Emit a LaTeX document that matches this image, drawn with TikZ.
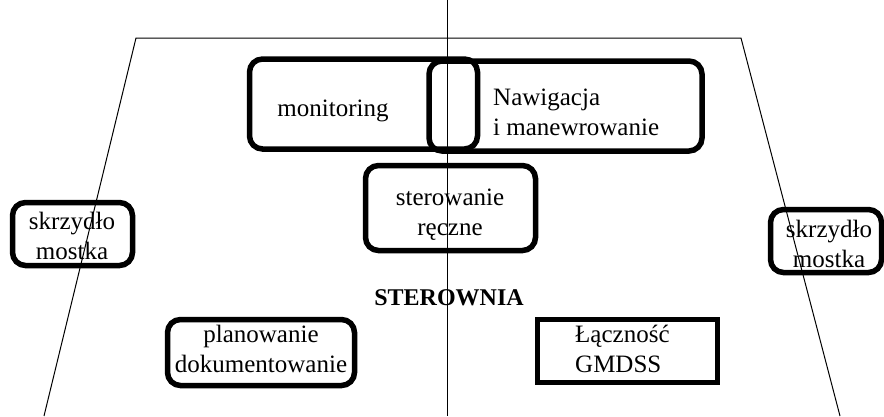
\documentclass[tikz,border=0pt]{standalone}
\usepackage{fontspec}
\setmainfont{Liberation Serif}
\begin{document}
\begin{tikzpicture}[x=1pt,y=-1pt,
  rbox/.style={draw, line width=5.5pt, rounded corners=13pt, inner sep=0pt},
  sbox/.style={draw, line width=5.5pt, inner sep=0pt},
  lbl/.style={font=\fontsize{25}{30}\selectfont, align=center, inner sep=0pt},
  lbll/.style={font=\fontsize{25}{30}\selectfont, align=left, inner sep=0pt},
  thin/.style={line width=1pt}]
\useasboundingbox (0,0) rectangle (884,416);
% boxes
\node[rbox, minimum width=228pt, minimum height=90pt] (mon) at (363.5,104) {};
\node[rbox, minimum width=273pt, minimum height=90pt] (naw) at (565.5,106) {};
\node[rbox, minimum width=170pt, minimum height=85pt] (ster) at (450.5,208) {};
\node[rbox, minimum width=120pt, minimum height=63pt] (skl) at (72.5,234) {};
\node[rbox, minimum width=111pt, minimum height=63pt] (skr) at (826,241) {};
\node[rbox, minimum width=187pt, minimum height=66pt] (plan) at (261,352.5) {};
\node[sbox, minimum width=180pt, minimum height=63pt] (lacz) at (627.5,351) {};
% texts
\node[lbl] (tmon) at (333,111) {monitoring};
\node[lbll, anchor=west] (tnaw) at (493,112) {Nawigacja\\i manewrowanie};
\node[lbl] (tster) at (450,215) {sterowanie\\ręczne};
\node[lbl] (tskl) at (72,236) {skrzydło\\mostka};
\node[lbl] (tskr) at (829,244) {skrzydło\\mostka};
\node[lbl, font=\fontsize{24}{28}\bfseries] (tsw) at (449,298) {STEROWNIA};
\node[lbl] (tplan) at (261,349) {planowanie\\dokumentowanie};
\node[lbll, anchor=west] (tlacz) at (575,349) {Łączność\\GMDSS};
% frame lines
\coordinate (tl) at (136,38);
\coordinate (tr) at (741,38);
\coordinate (bl) at (44,416);
\coordinate (br) at (840,416);
\coordinate (vt) at (447,0);
\coordinate (vb) at (447,416);
\draw[thin] (bl) -- (tl) -- (tr) -- (br);
\draw[thin] (vt) -- (vb);
\end{tikzpicture}
\end{document}
